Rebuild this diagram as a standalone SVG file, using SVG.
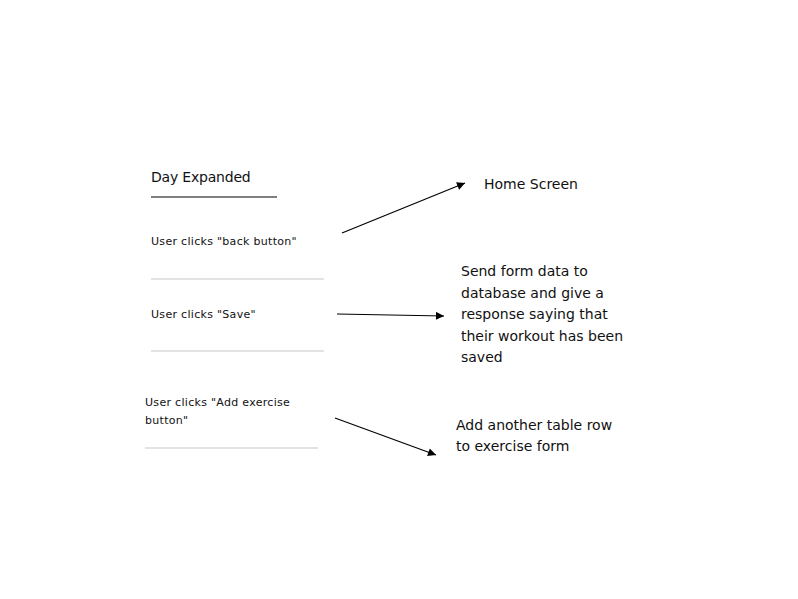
<svg xmlns="http://www.w3.org/2000/svg" width="798" height="599" viewBox="0 0 798 599">
<style>
.t{font-family:"DejaVu Sans","Liberation Sans",sans-serif;fill:#111}
.big{font-size:14px}
.sm{font-size:11px;letter-spacing:0.3px}
.rule{stroke:#c8c8c8;stroke-width:1.2}
.conn{stroke:#000;stroke-width:1.2;fill:none}
</style>
<defs>
<marker id="ah" viewBox="0 0 10 10" refX="10" refY="5" markerWidth="10" markerHeight="8" markerUnits="userSpaceOnUse" orient="auto">
<path d="M0,0 L10,5 L0,10 z" fill="#000"/>
</marker>
</defs>
<rect width="798" height="599" fill="#fff"/>
<g id="title">
<text class="t big" x="151" y="182" style="letter-spacing:-0.2px">Day Expanded</text>
<line x1="151" y1="197" x2="277" y2="197" stroke="#000" stroke-width="1.2"/>
</g>
<g id="back">
<text class="t sm" x="151" y="245">User clicks "back button"</text>
<line class="rule" x1="151" y1="279" x2="324" y2="279"/>
</g>
<g id="save">
<text class="t sm" x="151" y="318">User clicks "Save"</text>
<line class="rule" x1="151" y1="351" x2="324" y2="351"/>
</g>
<g id="add">
<text class="t sm" x="145" y="406">User clicks "Add exercise</text>
<text class="t sm" x="145" y="424">button"</text>
<line class="rule" x1="145" y1="448" x2="318" y2="448"/>
</g>
<g id="home">
<text class="t big" x="484" y="189">Home Screen</text>
</g>
<g id="send">
<text class="t big" x="461" y="276">Send form data to</text>
<text class="t big" x="461" y="297.5">database and give a</text>
<text class="t big" x="461" y="319">response saying that</text>
<text class="t big" x="461" y="340.5">their workout has been</text>
<text class="t big" x="461" y="362">saved</text>
</g>
<g id="row">
<text class="t big" x="456" y="430">Add another table row</text>
<text class="t big" x="456" y="451">to exercise form</text>
</g>
<g id="connectors">
<line class="conn" x1="342" y1="233" x2="465" y2="183" marker-end="url(#ah)"/>
<line class="conn" x1="337" y1="314" x2="444" y2="316" marker-end="url(#ah)"/>
<line class="conn" x1="335" y1="418" x2="436" y2="455" marker-end="url(#ah)"/>
</g>
</svg>
